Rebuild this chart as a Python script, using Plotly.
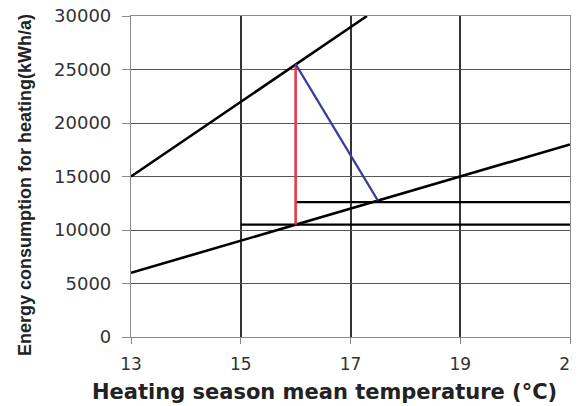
import plotly.graph_objects as go

# chart values
x_ticks = [13, 15, 17, 19, 21]
y_ticks = [0, 5000, 10000, 15000, 20000, 25000, 30000]
y_tick_text = ['0', '5000', '10000', '15000', '20000', '25000', '30000']

upper_x = [13, 17.3]
upper_y = [15000, 30000]
lower_x = [13, 21]
lower_y = [6000, 18000]
red_x = [16, 16]
red_y = [10500, 25300]
blue_x = [16, 17.5]
blue_y = [25500, 12750]
level_low_x = [15, 21]
level_low_y = [10500, 10500]
level_high_x = [16, 21]
level_high_y = [12600, 12600]

fig = go.Figure()

segments = [
    (level_low_x, level_low_y, 'black', 2.2),
    (level_high_x, level_high_y, 'black', 2.2),
    (upper_x, upper_y, 'black', 2.6),
    (lower_x, lower_y, 'black', 2.6),
    (red_x, red_y, '#e8394a', 2.6),
    (blue_x, blue_y, '#3b3b9c', 2.2),
]
for xs, ys, colour, width in segments:
    fig.add_trace(go.Scatter(x=xs, y=ys, mode='lines',
                             line=dict(color=colour, width=width),
                             showlegend=False, hoverinfo='skip'))

fig.update_xaxes(
    range=[13, 21], tickvals=x_ticks, automargin=False,
    showgrid=True, gridcolor='#333333', gridwidth=1.5,
    showline=True, linecolor='#8a8a8a', linewidth=1.2, mirror=True,
    ticks='outside', ticklen=6, tickcolor='#8a8a8a',
    ticklabelstandoff=5, ticklabeloverflow='allow',
    tickfont=dict(family='DejaVu Sans', size=17, color='#333333'),
    zeroline=False,
)
fig.update_yaxes(
    range=[0, 30000], tickvals=y_ticks, ticktext=y_tick_text, automargin=False,
    showgrid=True, gridcolor='#555555', gridwidth=1,
    showline=True, linecolor='#8a8a8a', linewidth=1.2, mirror=True,
    ticks='outside', ticklen=8, tickcolor='#8a8a8a',
    ticklabelstandoff=7, ticklabeloverflow='allow',
    tickfont=dict(family='DejaVu Sans', size=18, color='#333333'),
    zeroline=False,
)

# axis titles as annotations so they sit where the original puts them
fig.add_annotation(text='<b>Heating season mean temperature (°C)</b>',
                   xref='paper', yref='paper', x=0.44, y=-0.171,
                   showarrow=False, xanchor='center', yanchor='middle',
                   font=dict(family='DejaVu Sans', size=21, color='#222222'))
fig.add_annotation(text='<b>Energy consumption for heating(kWh/a)</b>',
                   xref='paper', yref='paper', x=-0.2415, y=0.4735,
                   showarrow=False, textangle=-90,
                   xanchor='center', yanchor='middle',
                   font=dict(family='Liberation Sans', size=18, color='#222222'))

# the page adds an 8px body margin, so the margins are shifted to compensate
fig.update_layout(
    width=580, height=406,
    margin=dict(l=123, r=18, t=8, b=77),
    plot_bgcolor='white', paper_bgcolor='white',
)

fig.write_html("out.html")
